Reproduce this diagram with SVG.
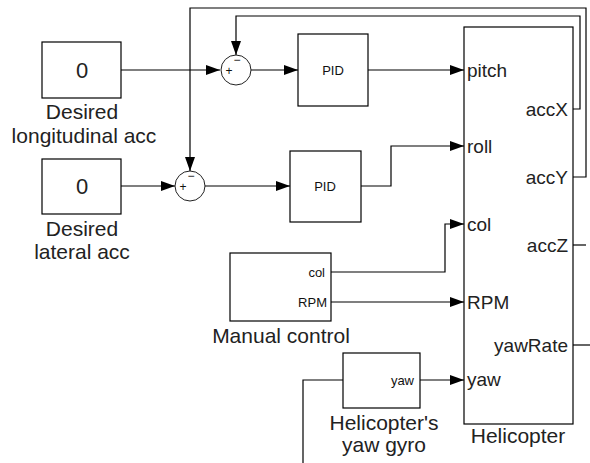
<svg xmlns="http://www.w3.org/2000/svg" width="590" height="463" viewBox="0 0 590 463">
<style>
.blk{fill:#fff;stroke:#000;stroke-width:1.2}
.sum{fill:#fff;stroke:#222;stroke-width:1}
.ln{fill:none;stroke:#000;stroke-width:1.2}
.lbl{font-family:"Liberation Sans",Arial,sans-serif;font-size:21px;fill:#222;text-anchor:middle}
.val{font-family:"Liberation Sans",Arial,sans-serif;font-size:22px;fill:#222;text-anchor:middle}
.prt{font-family:"Liberation Sans",Arial,sans-serif;font-size:19px;fill:#222}
.sm{font-family:"Liberation Sans",Arial,sans-serif;font-size:13px;fill:#111;text-anchor:end}
.pid{font-family:"Liberation Sans",Arial,sans-serif;font-size:13px;fill:#111;text-anchor:middle}
.sg{font-family:"Liberation Sans",Arial,sans-serif;font-size:12px;fill:#111;text-anchor:middle}
</style>
<defs>
<marker id="ar" markerUnits="userSpaceOnUse" markerWidth="14" markerHeight="10" refX="14" refY="5" orient="auto">
<path d="M0,0 L14,5 L0,10 z" fill="#000"/>
</marker>
</defs>
<rect width="590" height="463" fill="#fff"/>
<g id="connectors">
<path class="ln" d="M121,70 H220" marker-end="url(#ar)"/>
<path class="ln" d="M251,70 H298" marker-end="url(#ar)"/>
<path class="ln" d="M368,70 H464" marker-end="url(#ar)"/>
<path class="ln" d="M121,186 H175" marker-end="url(#ar)"/>
<path class="ln" d="M205,186 H290" marker-end="url(#ar)"/>
<path class="ln" d="M361,186 H391 V146 H464" marker-end="url(#ar)"/>
<path class="ln" d="M573,109 H580 V16 H236 V55" marker-end="url(#ar)"/>
<path class="ln" d="M573,177 H586 V8 H190 V171" marker-end="url(#ar)"/>
<path class="ln" d="M331,272 H445 V224 H464" marker-end="url(#ar)"/>
<path class="ln" d="M331,302 H464" marker-end="url(#ar)"/>
<path class="ln" d="M420,380 H464" marker-end="url(#ar)"/>
<path class="ln" d="M303,463 V380 H343"/>
<path class="ln" d="M573,245 H586"/>
<path class="ln" d="M573,345 H590"/>
</g>
<g id="desired-long">
<rect class="blk" x="42" y="42" width="79" height="56"/>
<text class="val" x="82" y="78">0</text>
<text class="lbl" x="82" y="119">Desired</text>
<text class="lbl" x="84" y="143">longitudinal acc</text>
</g>
<g id="desired-lat">
<rect class="blk" x="42" y="159" width="79" height="55"/>
<text class="val" x="82" y="194">0</text>
<text class="lbl" x="82" y="236">Desired</text>
<text class="lbl" x="82" y="259">lateral acc</text>
</g>
<g id="sum1">
<circle class="sum" cx="236" cy="70" r="15"/>
<text class="sg" x="229" y="75">+</text>
<text class="sg" x="237" y="64">−</text>
</g>
<g id="sum2">
<circle class="sum" cx="190" cy="186" r="15"/>
<text class="sg" x="183" y="191">+</text>
<text class="sg" x="191" y="180">−</text>
</g>
<g id="pid1">
<rect class="blk" x="298" y="34" width="70" height="72"/>
<text class="pid" x="333" y="75">PID</text>
</g>
<g id="pid2">
<rect class="blk" x="290" y="151" width="71" height="71"/>
<text class="pid" x="325" y="191">PID</text>
</g>
<g id="manual">
<rect class="blk" x="230" y="253" width="101" height="68"/>
<text class="sm" x="325" y="277">col</text>
<text class="sm" x="327" y="307">RPM</text>
<text class="lbl" x="281" y="343">Manual control</text>
</g>
<g id="gyro">
<rect class="blk" x="343" y="353" width="77" height="55"/>
<text class="sm" x="414" y="385">yaw</text>
<text class="lbl" x="384" y="430">Helicopter's</text>
<text class="lbl" x="384" y="452">yaw gyro</text>
</g>
<g id="helicopter">
<rect class="blk" x="464" y="27" width="109" height="397"/>
<text class="prt" x="467" y="77">pitch</text>
<text class="prt" x="467" y="153">roll</text>
<text class="prt" x="467" y="231">col</text>
<text class="prt" x="467" y="309">RPM</text>
<text class="prt" x="467" y="386">yaw</text>
<text class="prt" x="568" y="116" text-anchor="end">accX</text>
<text class="prt" x="568" y="184" text-anchor="end">accY</text>
<text class="prt" x="568" y="252" text-anchor="end">accZ</text>
<text class="prt" x="568" y="352" text-anchor="end">yawRate</text>
<text class="lbl" x="518" y="443">Helicopter</text>
</g>
</svg>
